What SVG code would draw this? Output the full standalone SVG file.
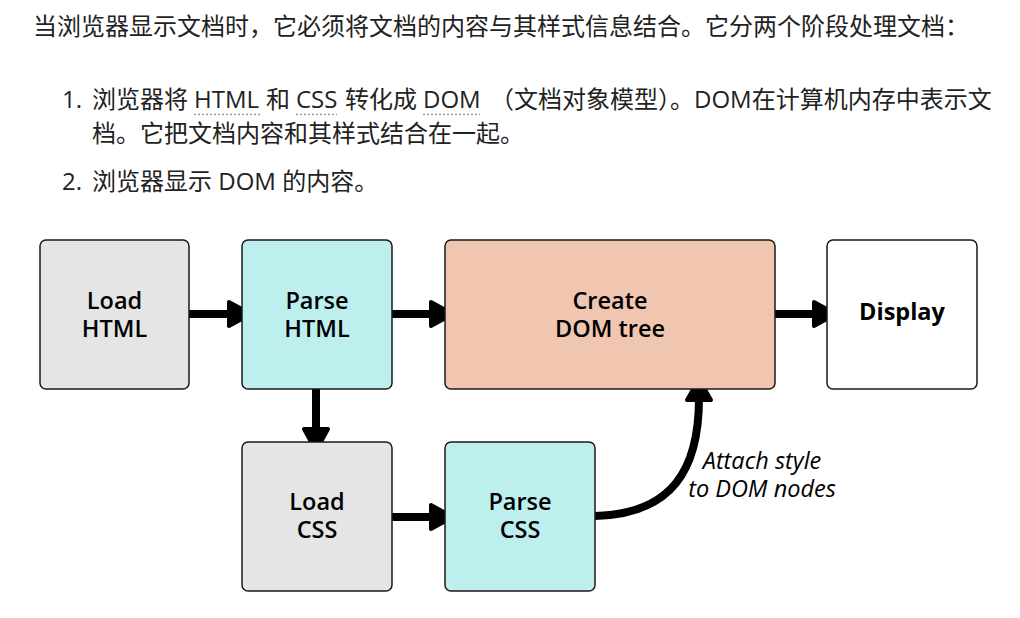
<svg xmlns="http://www.w3.org/2000/svg" width="1020" height="618" viewBox="0 0 1020 618">
<style>
.p{font-family:"Open Sans","Noto Sans CJK SC",sans-serif;font-size:24px;fill:#222}
.u{stroke:#9a9a9a;stroke-width:1.3;stroke-dasharray:2 2}
.box{stroke:#1a1a1a;stroke-width:1.5}
.t{font-family:"Open Sans",sans-serif;font-size:23.5px;font-weight:600;fill:#000;text-anchor:middle}
.b{font-weight:700}
.lbl{font-family:"Open Sans",sans-serif;font-size:23.5px;font-style:italic;fill:#000;text-anchor:middle}
.ln{stroke:#000;stroke-width:8;fill:none}
.ah{fill:#000;stroke:#000;stroke-width:4;stroke-linejoin:round}
</style>
<rect width="1020" height="618" fill="#fff"/>
<g id="text">
<text class="p" x="33" y="35">当浏览器显示文档时，它必须将文档的内容与其样式信息结合。它分两个阶段处理文档：</text>
<text class="p" y="108"><tspan x="62">1.</tspan><tspan x="92">浏览器将</tspan><tspan x="194">HTML</tspan><tspan x="266">和</tspan><tspan x="296">CSS</tspan><tspan x="345">转化成</tspan><tspan x="423">DOM</tspan><tspan x="490">（文档对象模型）。DOM在计算机内存中表示文</tspan></text>
<text class="p" x="92" y="142">档。它把文档内容和其样式结合在一起。</text>
<text class="p" y="190"><tspan x="62">2.</tspan><tspan x="92">浏览器显示 DOM 的内容。</tspan></text>
<line class="u" x1="194" y1="114.5" x2="260" y2="114.5"/>
<line class="u" x1="296" y1="114.5" x2="337" y2="114.5"/>
<line class="u" x1="423" y1="114.5" x2="480" y2="114.5"/>
</g>
<g id="connectors">
<line class="ln" x1="189" y1="314" x2="230" y2="314"/>
<polygon class="ah" points="229,302 251,314 229,326"/>
<line class="ln" x1="392" y1="314" x2="432" y2="314"/>
<polygon class="ah" points="431,302 453,314 431,326"/>
<line class="ln" x1="775" y1="314" x2="815" y2="314"/>
<polygon class="ah" points="814,302 836,314 814,326"/>
<line class="ln" x1="316" y1="389" x2="316" y2="430"/>
<polygon class="ah" points="304,429 316,451 328,429"/>
<line class="ln" x1="392" y1="517" x2="432" y2="517"/>
<polygon class="ah" points="431,505 453,517 431,529"/>
<path class="ln" d="M595,516 C672,514 699,470 699,398"/>
<polygon class="ah" points="687,400 699,379 711,400"/>
</g>
<g id="load-html">
<rect class="box" x="40" y="240" width="149" height="149" rx="6" fill="#e5e5e5"/>
<text class="t"><tspan x="114.5" y="309">Load</tspan><tspan x="114.5" y="337">HTML</tspan></text>
</g>
<g id="parse-html">
<rect class="box" x="242" y="240" width="150" height="149" rx="6" fill="#bdefee"/>
<text class="t"><tspan x="317" y="309">Parse</tspan><tspan x="317" y="337">HTML</tspan></text>
</g>
<g id="create-dom">
<rect class="box" x="445" y="240" width="330" height="149" rx="6" fill="#f1c6b1"/>
<text class="t"><tspan x="610" y="309">Create</tspan><tspan x="610" y="337">DOM tree</tspan></text>
</g>
<g id="display">
<rect class="box" x="827" y="240" width="150" height="149" rx="6" fill="#fff"/>
<text class="t b" x="902" y="320">Display</text>
</g>
<g id="load-css">
<rect class="box" x="242" y="442" width="150" height="149" rx="6" fill="#e5e5e5"/>
<text class="t"><tspan x="317" y="510">Load</tspan><tspan x="317" y="538">CSS</tspan></text>
</g>
<g id="parse-css">
<rect class="box" x="445" y="442" width="150" height="149" rx="6" fill="#bdefee"/>
<text class="t"><tspan x="520" y="510">Parse</tspan><tspan x="520" y="538">CSS</tspan></text>
</g>
<g id="label">
<text class="lbl"><tspan x="762" y="469">Attach style</tspan><tspan x="762" y="497">to DOM nodes</tspan></text>
</g>
</svg>
